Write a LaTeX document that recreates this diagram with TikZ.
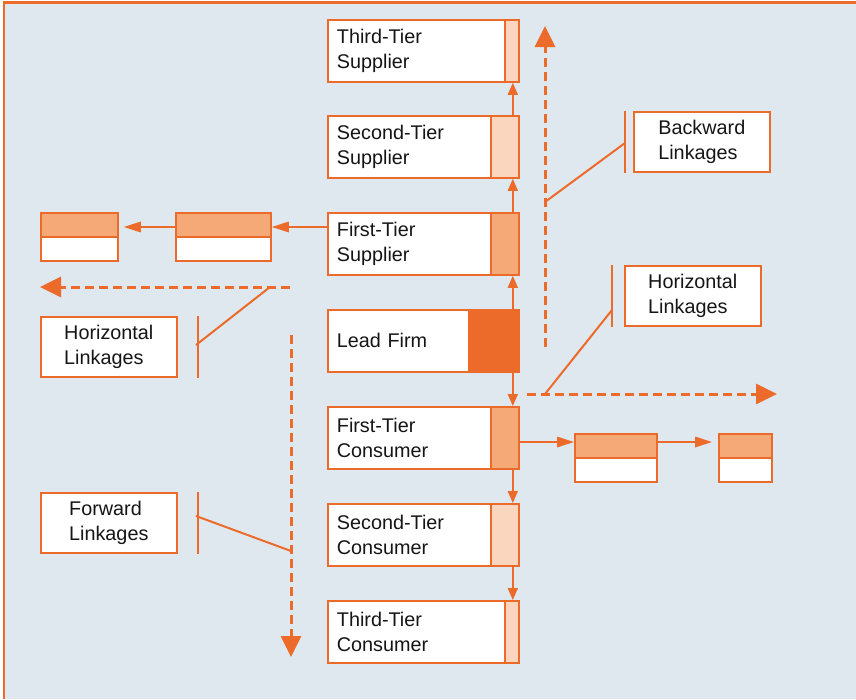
\documentclass[tikz,border=0pt]{standalone}
\usepackage{fontspec}
\setmainfont{Liberation Sans}
\usetikzlibrary{arrows.meta}
\definecolor{orng}{HTML}{EC6B2B}
\definecolor{midor}{HTML}{F5A977}
\definecolor{liteor}{HTML}{FBD6BE}
\definecolor{bgc}{HTML}{DFE8EE}
\definecolor{txt}{HTML}{151515}
\begin{document}
\begin{tikzpicture}[x=1pt,y=-1pt,
  font=\fontsize{19.8}{25.5}\selectfont, text=txt,
  tier/.style 2 args={draw=orng, fill=white, line width=1.8pt,
    minimum width=191pt, minimum height=62pt, text width=173pt, inner xsep=9pt,
    inner ysep=0pt, align=left, anchor=north west,
    path picture={
      \fill[#1] ([xshift=-#2]path picture bounding box.north east) rectangle (path picture bounding box.south east);
      \draw[orng, line width=1.8pt] ([xshift=-#2]path picture bounding box.north east) -- ([xshift=-#2]path picture bounding box.south east);}},
  small/.style={draw=orng, fill=white, line width=1.8pt, minimum height=48pt,
    inner sep=0pt, anchor=north west,
    path picture={
      \fill[midor] (path picture bounding box.north west) rectangle (path picture bounding box.east);
      \draw[orng, line width=1.8pt] (path picture bounding box.west) -- (path picture bounding box.east);}},
  callout/.style={draw=orng, fill=white, line width=1.6pt, minimum width=136pt,
    minimum height=60pt, inner sep=0pt, align=left, anchor=north west},
  sarrowv/.style={draw=orng, line width=1.7pt, -{Triangle[length=12pt,width=10pt]}},
  sarrowh/.style={draw=orng, line width=1.7pt, -{Triangle[length=17pt,width=10.5pt]}},
  darrow/.style={draw=orng, line width=3pt, dash pattern=on 9pt off 5pt,
    -{Triangle[length=21pt,width=20pt]}},
  lead/.style={draw=orng, line width=2pt},
  bar/.style={draw=orng, line width=2.2pt}
]
\useasboundingbox (0,0) rectangle (856,699);
\fill[white] (0,0) rectangle (856,699);
\fill[bgc] (4,2.5) rectangle (856,699);
\draw[orng, line width=2.5pt] (4,699) -- (4,2.5) -- (856,2.5);

% main column
\node[tier={liteor}{14pt}] (tts) at (327,19) {Third-Tier\\Supplier};
\node[tier={liteor}{28pt}] (sts) at (327,115) {Second-Tier\\Supplier};
\node[tier={midor}{28pt}] (fts) at (327,212) {First-Tier\\Supplier};
\node[tier={orng}{50pt}] (lf) at (327,309) {Lead Firm};
\node[tier={midor}{28pt}] (ftc) at (327,406) {First-Tier\\Consumer};
\node[tier={liteor}{28pt}] (stc) at (327,503) {Second-Tier\\Consumer};
\node[tier={liteor}{14pt}] (ttc) at (327,600) {Third-Tier\\Consumer};

% vertical arrows
\draw[sarrowv] ([xshift=-7pt]lf.north east) -- ([xshift=-7pt]fts.south east);
\draw[sarrowv] ([xshift=-7pt]fts.north east) -- ([xshift=-7pt]sts.south east);
\draw[sarrowv] ([xshift=-7pt]sts.north east) -- ([xshift=-7pt]tts.south east);
\draw[sarrowv] ([xshift=-7pt]lf.south east) -- ([xshift=-7pt]ftc.north east);
\draw[sarrowv] ([xshift=-7pt]ftc.south east) -- ([xshift=-7pt]stc.north east);
\draw[sarrowv] ([xshift=-7pt]stc.south east) -- ([xshift=-7pt]ttc.north east);

% side boxes
\node[small, minimum width=95pt] (sl2) at (175,212) {};
\node[small, minimum width=77pt] (sl1) at (40,212) {};
\node[small, minimum width=82pt] (sr1) at (574,433) {};
\node[small, minimum width=53pt] (sr2) at (718,433) {};

\draw[sarrowh] (fts.west |- 0,227) -- (sl2.east |- 0,227);
\draw[sarrowh, shorten >=5pt] (sl2.west |- 0,227) -- (sl1.east |- 0,227);
\draw[sarrowh] (ftc.east |- 0,442) -- (sr1.west |- 0,442);
\draw[sarrowh, shorten >=6pt] (sr1.east |- 0,442) -- (sr2.west |- 0,442);

% dashed linkage arrows
\coordinate (bk0) at (545,347); \coordinate (bk1) at (545,26);
\coordinate (hr0) at (527,394); \coordinate (hr1) at (777,394);
\coordinate (hl0) at (290,287); \coordinate (hl1) at (40,287);
\coordinate (fw0) at (291,335); \coordinate (fw1) at (291,657);
\draw[darrow] (bk0) -- (bk1);
\draw[darrow] (hr0) -- (hr1);
\draw[darrow] (hl0) -- (hl1);
\draw[darrow] (fw0) -- (fw1);

% callouts
\node[callout] (cbk) at (633,111) {Backward\\Linkages};
\node[callout] (chr) at (624,265) {Horizontal\\Linkages};
\node[callout] (chl) at (40,316) {Horizontal\\Linkages};
\node[callout] (cfw) at (40,492) {Forward\\Linkages};

\draw[bar] ([xshift=-8pt]cbk.north west) -- ([xshift=-8pt]cbk.south west);
\draw[bar] ([xshift=-12pt]chr.north west) -- ([xshift=-12pt]chr.south west);
\draw[bar] ([xshift=20pt]chl.north east) -- ([xshift=20pt]chl.south east);
\draw[bar] ([xshift=20pt]cfw.north east) -- ([xshift=20pt]cfw.south east);

\coordinate (bkj) at (545,202); \coordinate (bkb) at (625,143);
\coordinate (hrj) at (545,394); \coordinate (hrb) at (612,310);
\coordinate (hlj) at (270,287); \coordinate (hlb) at (196,345);
\coordinate (fwj) at (291,551); \coordinate (fwb) at (196,516);
\draw[lead] (bkj) -- (bkb);
\draw[lead] (hrj) -- (hrb);
\draw[lead] (hlj) -- (hlb);
\draw[lead] (fwj) -- (fwb);
\end{tikzpicture}
\end{document}
